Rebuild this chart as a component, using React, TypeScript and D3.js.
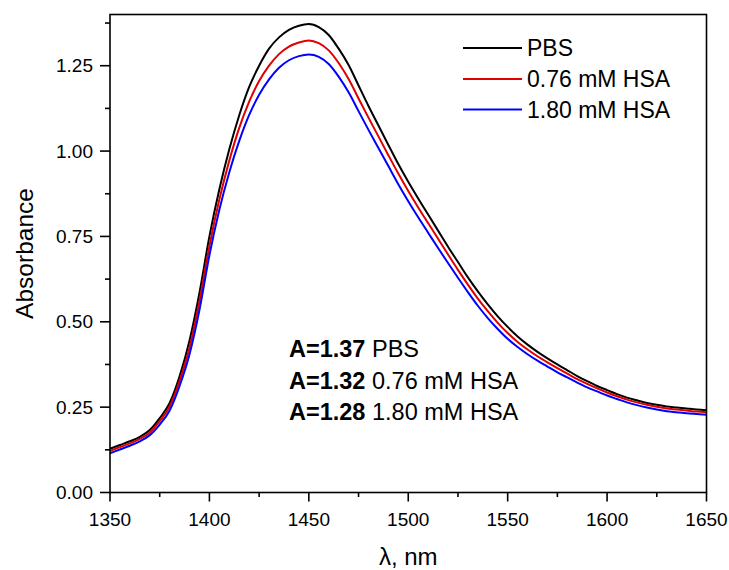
import React from "react";
import * as d3 from "d3";

const wavelengths = [
  1350, 1355, 1360, 1365, 1370, 1375, 1380, 1385, 1390, 1395, 1400, 1405, 1410, 1415, 1420, 1425, 1430, 1435, 1440, 1445,
  1450, 1455, 1460, 1465, 1470, 1475, 1480, 1485, 1490, 1495, 1500, 1505, 1510, 1515, 1520, 1525, 1530, 1535, 1540, 1545,
  1550, 1555, 1560, 1565, 1570, 1575, 1580, 1585, 1590, 1595, 1600, 1605, 1610, 1615, 1620, 1625, 1630, 1635, 1640, 1645,
  1650,
];

const pbs = [
  0.128, 0.139, 0.150, 0.163, 0.183, 0.218, 0.262, 0.340, 0.445, 0.585, 0.750, 0.888, 1.005, 1.105, 1.188, 1.250, 1.300, 1.333, 1.355, 1.367,
  1.372, 1.363, 1.340, 1.300, 1.252, 1.192, 1.132, 1.075, 1.018, 0.962, 0.910, 0.861, 0.814, 0.767, 0.720, 0.675, 0.630, 0.589, 0.551, 0.516,
  0.485, 0.457, 0.433, 0.412, 0.393, 0.375, 0.358, 0.341, 0.326, 0.312, 0.300, 0.288, 0.278, 0.270, 0.262, 0.257, 0.252, 0.249, 0.246, 0.243,
  0.241,
];

const hsa076 = [
  0.122, 0.133, 0.144, 0.157, 0.176, 0.209, 0.252, 0.327, 0.425, 0.560, 0.722, 0.858, 0.972, 1.068, 1.145, 1.205, 1.250, 1.284, 1.306, 1.318,
  1.324, 1.316, 1.295, 1.258, 1.211, 1.154, 1.098, 1.043, 0.988, 0.934, 0.883, 0.835, 0.789, 0.743, 0.697, 0.652, 0.609, 0.568, 0.531, 0.497,
  0.467, 0.441, 0.419, 0.399, 0.381, 0.364, 0.348, 0.332, 0.318, 0.305, 0.293, 0.282, 0.272, 0.264, 0.257, 0.251, 0.246, 0.243, 0.240, 0.237,
  0.235,
];

const hsa180 = [
  0.115, 0.126, 0.137, 0.150, 0.168, 0.199, 0.240, 0.312, 0.405, 0.535, 0.695, 0.828, 0.938, 1.030, 1.106, 1.165, 1.210, 1.244, 1.266, 1.278,
  1.283, 1.276, 1.255, 1.218, 1.172, 1.117, 1.062, 1.009, 0.956, 0.903, 0.853, 0.806, 0.761, 0.716, 0.672, 0.629, 0.587, 0.547, 0.511, 0.479,
  0.450, 0.426, 0.405, 0.386, 0.369, 0.352, 0.337, 0.322, 0.308, 0.296, 0.284, 0.274, 0.264, 0.256, 0.249, 0.243, 0.238, 0.235, 0.232, 0.230,
  0.228,
];

const seriesNames = ["PBS", "0.76 mM HSA", "1.80 mM HSA"];
const seriesColors = ["#000000", "#e00000", "#0000ff"];
const seriesValues = [pbs, hsa076, hsa180];

const xTicks = [1350, 1400, 1450, 1500, 1550, 1600, 1650];
const yTicks = [0, 0.25, 0.5, 0.75, 1.0, 1.25];
const annotationValues = ["A=1.37", "A=1.32", "A=1.28"];

const W = 729;
const H = 570;
const M = { left: 110, right: 706.5, top: 14.5, bottom: 492.5 };
const FONT = "'Liberation Sans', Arial, Helvetica, sans-serif";

export default function App() {
  const x = d3.scaleLinear().domain([1350, 1650]).range([M.left, M.right]);
  const y = d3.scaleLinear().domain([0, 1.4]).range([M.bottom, M.top]);

  const line = d3
    .line<[number, number]>()
    .x((d) => x(d[0]))
    .y((d) => y(d[1]))
    .curve(d3.curveMonotoneX);

  const xMinor = d3.range(1375, 1650, 50);
  const yMinor = d3.range(0.125, 1.4, 0.25);

  const legendY = [48, 79, 109.5];
  const annY = [357, 388.5, 420];

  return (
    <svg
      width={W}
      height={H}
      style={{ position: "absolute", left: 0, top: 0, background: "#fff" }}
      fontFamily={FONT}
    >
      <rect x={0} y={0} width={W} height={H} fill="#fff" />
      {/* curves */}
      <g fill="none" strokeWidth={2} strokeLinejoin="round">
        {seriesValues.map((vals, i) => (
          <path
            key={i}
            d={line(wavelengths.map((w, j) => [w, vals[j]]) as [number, number][]) || ""}
            stroke={seriesColors[i]}
          />
        ))}
      </g>
      {/* frame */}
      <rect
        x={M.left}
        y={M.top}
        width={M.right - M.left}
        height={M.bottom - M.top}
        fill="none"
        stroke="#000"
        strokeWidth={1.6}
      />
      {/* ticks */}
      <g stroke="#000" strokeWidth={1.6}>
        {xTicks.map((t) => (
          <line key={t} x1={x(t)} x2={x(t)} y1={M.bottom} y2={M.bottom + 9} />
        ))}
        {xMinor.map((t) => (
          <line key={"m" + t} x1={x(t)} x2={x(t)} y1={M.bottom} y2={M.bottom + 4.5} />
        ))}
        {yTicks.map((t) => (
          <line key={t} x1={M.left - 10} x2={M.left} y1={y(t)} y2={y(t)} />
        ))}
        {yMinor.map((t) => (
          <line key={"m" + t} x1={M.left - 5} x2={M.left} y1={y(t)} y2={y(t)} />
        ))}
      </g>
      <g fontSize={19} fill="#000">
        {xTicks.map((t) => (
          <text key={t} x={x(t)} y={526} textAnchor="middle">
            {t}
          </text>
        ))}
        {yTicks.map((t) => (
          <text key={t} x={93} y={y(t)} dy="0.35em" textAnchor="end">
            {d3.format(".2f")(t)}
          </text>
        ))}
      </g>
      {/* axis titles */}
      <text x={(M.left + M.right) / 2} y={565} textAnchor="middle" fontSize={24}>
        λ, nm
      </text>
      <text
        transform={`translate(33, ${(M.top + M.bottom) / 2}) rotate(-90)`}
        textAnchor="middle"
        fontSize={24.5}
      >
        Absorbance
      </text>
      {/* legend */}
      {seriesNames.map((name, i) => (
        <g key={name}>
          <line x1={463} x2={522} y1={legendY[i]} y2={legendY[i]} stroke={seriesColors[i]} strokeWidth={2} />
          <text x={527} y={legendY[i]} dy="0.35em" fontSize={23}>
            {name}
          </text>
        </g>
      ))}
      {/* annotation */}
      {seriesNames.map((name, i) => (
        <text key={"a" + i} x={289} y={annY[i]} fontSize={23.5}>
          <tspan fontWeight="bold">{annotationValues[i]}</tspan>
          <tspan> {name}</tspan>
        </text>
      ))}
    </svg>
  );
}
